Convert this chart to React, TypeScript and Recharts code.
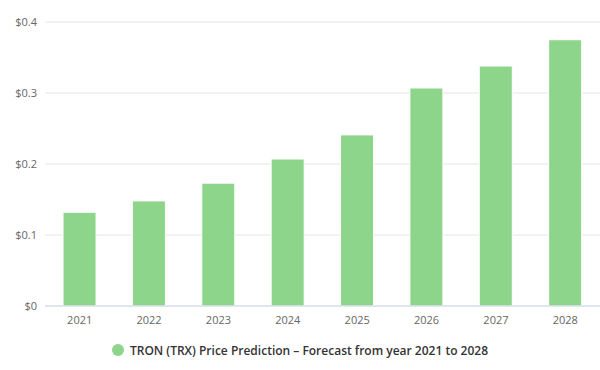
import {
  BarChart,
  Bar,
  XAxis,
  YAxis,
  CartesianGrid,
  Legend,
} from "recharts";

const years = ["2021", "2022", "2023", "2024", "2025", "2026", "2027", "2028"];
const prices = [0.132, 0.148, 0.173, 0.207, 0.241, 0.307, 0.338, 0.375];
const priceTicks = [0, 0.1, 0.2, 0.3, 0.4];

const SERIES_NAME = "TRON (TRX) Price Prediction – Forecast from year 2021 to 2028";
const GREEN = "#8dd58a";
const FONT = "'Open Sans', 'Noto Sans', sans-serif";

const data = years.map((year, i) => ({ year, price: prices[i] }));

// single-item legend, circle marker like the original
const renderLegend = () => (
  <div
    style={{
      height: 34,
      display: "flex",
      alignItems: "center",
      justifyContent: "center",
      fontFamily: FONT,
      fontSize: 12,
      fontWeight: 600,
      color: "#333",
      paddingBottom: 6,
      boxSizing: "border-box",
    }}
  >
    <span
      style={{
        width: 12,
        height: 12,
        borderRadius: "50%",
        background: GREEN,
        marginRight: 6,
        display: "inline-block",
      }}
    />
    {SERIES_NAME}
  </div>
);

export default function App() {
  return (
    <div style={{ position: "absolute", left: 0, top: 0, background: "#fff" }}>
      <BarChart
        width={600}
        height={370}
        data={data}
        margin={{ top: 22, right: 0, bottom: 0, left: 0 }}
        barCategoryGap="26%"
      >
        <CartesianGrid vertical={false} stroke="#e6e6e6" />
        <XAxis
          dataKey="year"
          height={30}
          tickLine={false}
          axisLine={{ stroke: "#ccd6eb" }}
          tick={{ fill: "#666", fontSize: 11, fontFamily: FONT }}
          tickMargin={4}
        />
        <YAxis
          width={45}
          domain={[0, 0.4]}
          ticks={priceTicks}
          axisLine={false}
          tickLine={false}
          tick={{ fill: "#666", fontSize: 11, fontFamily: FONT }}
          tickFormatter={(v: number) => `$${v}`}
        />
        <Legend verticalAlign="bottom" height={34} content={renderLegend} />
        <Bar
          dataKey="price"
          name={SERIES_NAME}
          fill={GREEN}
          stroke="#fff"
          strokeWidth={1}
          isAnimationActive={false}
        />
      </BarChart>
    </div>
  );
}
